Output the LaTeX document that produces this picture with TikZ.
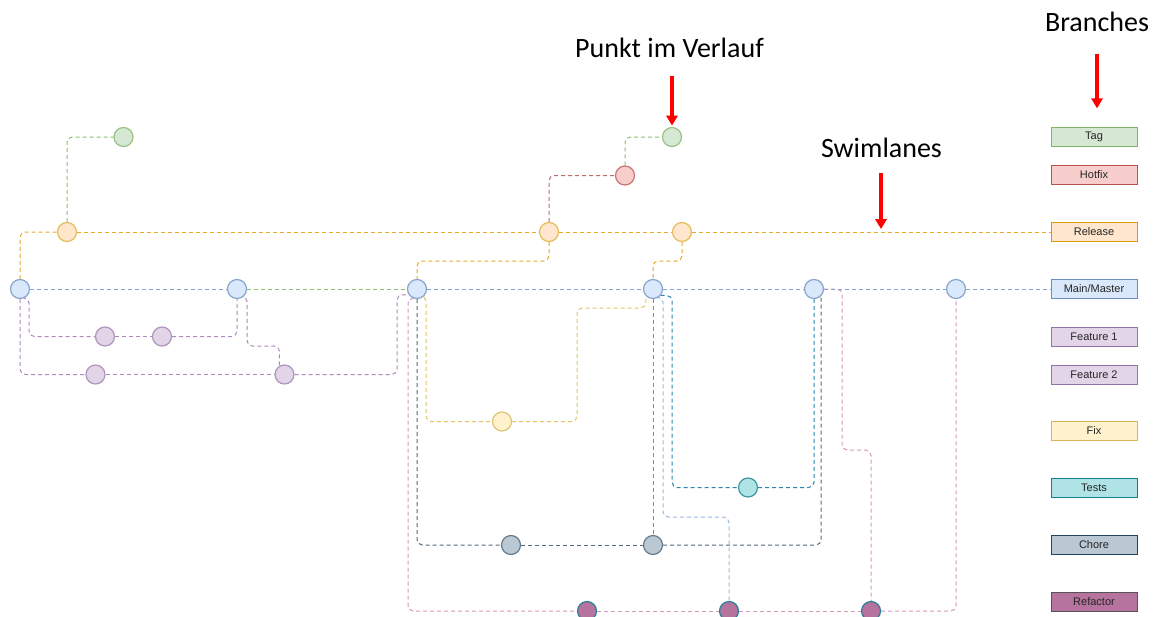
\documentclass[tikz,border=0pt]{standalone}
\usepackage{fontspec}
\setmainfont{Liberation Sans}
\newfontfamily\headfont{Carlito}
\usetikzlibrary{arrows.meta}

% branch colours: fill, border, lane line
\definecolor{tagF}{HTML}{D5E8D4}\definecolor{tagD}{HTML}{82B366}\definecolor{tagL}{HTML}{8CBF72}
\definecolor{hotF}{HTML}{F8CECC}\definecolor{hotD}{HTML}{B85450}\definecolor{hotL}{HTML}{C06A66}
\definecolor{relF}{HTML}{FFE6CC}\definecolor{relD}{HTML}{D79B00}\definecolor{relL}{HTML}{E5AA2C}
\definecolor{mainF}{HTML}{DAE8FC}\definecolor{mainD}{HTML}{6C8EBF}\definecolor{mainL}{HTML}{84A6D6}
\definecolor{featF}{HTML}{E1D5E7}\definecolor{featD}{HTML}{9673A6}\definecolor{featL}{HTML}{AD8ABD}
\definecolor{fixF}{HTML}{FFF2CC}\definecolor{fixD}{HTML}{D6B656}\definecolor{fixL}{HTML}{E2C462}
\definecolor{testF}{HTML}{B0E3E6}\definecolor{testD}{HTML}{0E8088}\definecolor{testL}{HTML}{2A86AE}
\definecolor{choreF}{HTML}{BAC8D3}\definecolor{choreD}{HTML}{23445D}\definecolor{choreL}{HTML}{56697B}
\definecolor{refF}{HTML}{B5739D}\definecolor{refD}{HTML}{2A8294}\definecolor{refB}{HTML}{555555}\definecolor{refL}{HTML}{D896BE}
\definecolor{arrowRed}{HTML}{FF0000}

\pgfdeclarelayer{paper}
\pgfdeclarelayer{lanes}
\pgfsetlayers{paper,lanes,main}

\begin{document}
\begin{tikzpicture}[x=0.75pt,y=-0.75pt,
  commit/.style={circle,line width=0.9pt,minimum size=14.25pt,inner sep=0pt},
  legend/.style={rectangle,line width=0.75pt,minimum width=64.5pt,minimum height=14.25pt,
    inner sep=0pt,font=\fontsize{8.25}{10}\selectfont,text=black!85},
  head/.style={font=\headfont\fontsize{21}{25}\selectfont,inner sep=0pt,anchor=base},
  lane/.style={line width=0.75pt,dash pattern=on 3pt off 2.25pt,rounded corners=4pt},
  redarrow/.style={draw=arrowRed,line width=2.6pt,-{Triangle[width=8.5pt,length=7.5pt]}},
  br tag/.style={fill=tagF,draw=tagD!80!white},
  br hot/.style={fill=hotF,draw=hotD!80!white},
  br rel/.style={fill=relF,draw=relD!65!white},
  br main/.style={fill=mainF,draw=mainD!80!white},
  br feat/.style={fill=featF,draw=featD!75!white},
  br fix/.style={fill=fixF,draw=fixD!80!white},
  br test/.style={fill=testF,draw=testD!80!white},
  br chore/.style={fill=choreF,draw=choreD!70!white},
  br ref/.style={fill=refF,draw=refD},
  key tag/.style={fill=tagF,draw=tagD},
  key hot/.style={fill=hotF,draw=hotD},
  key rel/.style={fill=relF,draw=relD},
  key main/.style={fill=mainF,draw=mainD},
  key feat/.style={fill=featF,draw=featD},
  key fix/.style={fill=fixF,draw=fixD},
  key test/.style={fill=testF,draw=testD},
  key chore/.style={fill=choreF,draw=choreD},
  key ref/.style={fill=refF,draw=refB},
]
\begin{pgfonlayer}{paper}
\fill[white] (0,0) rectangle (1156,617);
\end{pgfonlayer}
\useasboundingbox (0,0) rectangle (1156,617);

% ---- headings
\node[head] (lblPunkt) at (669.5,58) {Punkt im Verlauf};
\node[head] (lblSwim) at (881.5,157) {Swimlanes};
\node[head] (lblBranch) at (1097,32) {Branches};

% ---- legend of branches
\node[legend,key tag]   (LTag)   at (1094,137) {Tag};
\node[legend,key hot]   (LHot)   at (1094,175) {Hotfix};
\node[legend,key rel]   (LRel)   at (1094,232) {Release};
\node[legend,key main]  (LMain)  at (1094,289) {Main/Master};
\node[legend,key feat]  (LF1)    at (1094,336.5) {Feature 1};
\node[legend,key feat]  (LF2)    at (1094,374.5) {Feature 2};
\node[legend,key fix]   (LFix)   at (1094,431) {Fix};
\node[legend,key test]  (LTest)  at (1094,487.5) {Tests};
\node[legend,key chore] (LChore) at (1094,545) {Chore};
\node[legend,key ref]   (LRef)   at (1094,602) {Refactor};

% ---- commits
\node[commit,br tag]   (T1)  at (123.5,137) {};
\node[commit,br tag]   (T2)  at (672,137) {};
\node[commit,br hot]   (H1)  at (625,175.5) {};
\node[commit,br rel]   (R1)  at (67,232) {};
\node[commit,br rel]   (R2)  at (549,232) {};
\node[commit,br rel]   (R3)  at (682,232) {};
\node[commit,br main]  (M1)  at (20,289) {};
\node[commit,br main]  (M2)  at (237,289) {};
\node[commit,br main]  (M3)  at (417,289) {};
\node[commit,br main]  (M4)  at (653,289) {};
\node[commit,br main]  (M5)  at (814,289) {};
\node[commit,br main]  (M6)  at (956,289) {};
\node[commit,br feat]  (F1a) at (105,336.5) {};
\node[commit,br feat]  (F1b) at (162,336.5) {};
\node[commit,br feat]  (F2a) at (95.5,374.5) {};
\node[commit,br feat]  (F2b) at (284.5,374.5) {};
\node[commit,br fix]   (X1)  at (502,421.5) {};
\node[commit,br test]  (Te1) at (748,487.5) {};
\node[commit,br chore] (C1)  at (511,545) {};
\node[commit,br chore] (C2)  at (653,545) {};
\node[commit,br ref]   (Rf1) at (587,611) {};
\node[commit,br ref]   (Rf2) at (729,611) {};
\node[commit,br ref]   (Rf3) at (871,611) {};

% ---- lanes, kept behind the commits
\begin{pgfonlayer}{lanes}
% refactor
\draw[lane,draw=refL] (M3.-115) -| (408,611) -- (Rf1);
\draw[lane,draw=refL] (Rf1) -- (Rf2);
\draw[lane,draw=refL] (Rf2) -- (Rf3);
\draw[lane,draw=refL] (Rf3) -| (M6);
\draw[lane,draw=refL] (M5.east) -| (842,450) -| (Rf3);
\draw[lane,draw=mainL!80!white] (M4.-55) -| (663,517) -| (Rf2);
% chore
\draw[lane,draw=choreL] (M3) |- (C1);
\draw[lane,draw=choreL] (C1) -- (C2);
\draw[lane,draw=choreL] (C2) -| (M5.-45);
\draw[lane,draw=mainD] (M4) -- (C2);
% tests
\draw[lane,draw=testL] (M4.-40) -| (672,487.5) -- (Te1);
\draw[lane,draw=testL] (Te1) -| (M5);
% fix
\draw[lane,draw=fixL] (M3.-45) -| (426,421.5) -- (X1);
\draw[lane,draw=fixL] (X1) -| (577,308) -| (M4.-135);
% features
\draw[lane,draw=featL] (M1.-60) -| (29,336.5) -- (F1a);
\draw[lane,draw=featL] (F1a) -- (F1b);
\draw[lane,draw=featL] (F1b) -| (M2);
\draw[lane,draw=featL] (M1) |- (F2a);
\draw[lane,draw=featL] (F2a) -- (F2b);
\draw[lane,draw=featL] (M2.-45) -| (247,346) -| (F2b.120);
\draw[lane,draw=featL] (F2b) -- (397,374.5) |- (M3.-145);
% main
\draw[lane,draw=mainL] (M1) -- (M2);
\draw[lane,draw=tagL]  (M2) -- (M3);
\draw[lane,draw=mainL] (M3) -- (M4);
\draw[lane,draw=mainL] (M4) -- (M5);
\draw[lane,draw=mainL] (M5) -- (M6);
\draw[lane,draw=mainL] (M6) -- (LMain);
% release
\draw[lane,draw=relL] (M1) |- (R1);
\draw[lane,draw=relL] (R1) -- (R2);
\draw[lane,draw=relL] (R2) -- (R3);
\draw[lane,draw=relL] (R3) -- (LRel);
\draw[lane,draw=relL] (R2) -- (R2 |- 0,261) -| (M3);
\draw[lane,draw=relL] (R3) -- (R3 |- 0,261) -| (M4);
% hotfix and tags
\draw[lane,draw=hotL] (R2) |- (H1);
\draw[lane,draw=tagL] (H1) |- (T2);
\draw[lane,draw=tagL] (R1) |- (T1);
\end{pgfonlayer}

% ---- pointers
\coordinate (swimTip) at (881,229);
\draw[redarrow,shorten <=13pt] (lblPunkt.south -| T2.north) -- ([yshift=1pt]T2.north);
\draw[redarrow,shorten <=12pt] (lblSwim.south -| swimTip) -- (swimTip);
\draw[redarrow,shorten <=16.5pt,shorten >=14pt] (lblBranch.south) -- (lblBranch.south |- LTag.north);
\end{tikzpicture}
\end{document}
